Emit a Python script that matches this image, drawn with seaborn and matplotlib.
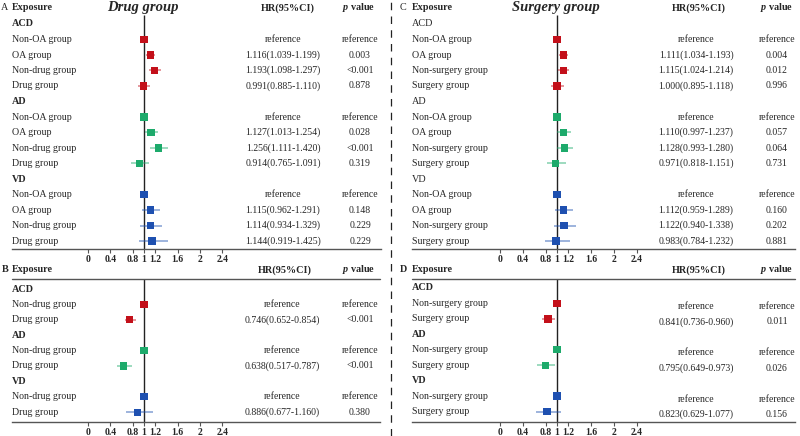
import numpy as np
import pandas as pd
import matplotlib
matplotlib.use("Agg")
import matplotlib.pyplot as plt
import seaborn as sns
from matplotlib.lines import Line2D
from matplotlib.transforms import blended_transform_factory

sns.set_theme(style="white")
plt.rcParams['font.family'] = ['Liberation Serif', 'DejaVu Serif']
plt.rcParams['mathtext.fontset'] = 'custom'
plt.rcParams['mathtext.it'] = 'Liberation Serif:italic:bold'
plt.rcParams['mathtext.rm'] = 'Liberation Serif:bold'

W, H = 800, 436
nan = np.nan

outcomes = ["ACD", "AD", "VD"]
palette = {"ACD": "#C3101A", "AD": "#1DAA6B", "VD": "#1E50B0"}

# Panel A: Drug group
a_groups = ["Non-OA group", "OA group", "Non-drug group", "Drug group"]
a_hr = [1.0, 1.116, 1.193, 0.991, 1.0, 1.127, 1.256, 0.914, 1.0, 1.115, 1.114, 1.144]
a_lo = [nan, 1.039, 1.098, 0.885, nan, 1.013, 1.111, 0.765, nan, 0.962, 0.934, 0.919]
a_hi = [nan, 1.199, 1.297, 1.110, nan, 1.254, 1.420, 1.091, nan, 1.291, 1.329, 1.425]
a_p = ["reference", "0.003", "<0.001", "0.878", "reference", "0.028", "<0.001", "0.319",
       "reference", "0.148", "0.229", "0.229"]

# Panel B
b_groups = ["Non-drug group", "Drug group"]
b_hr = [1.0, 0.746, 1.0, 0.638, 1.0, 0.886]
b_lo = [nan, 0.652, nan, 0.517, nan, 0.677]
b_hi = [nan, 0.854, nan, 0.787, nan, 1.160]
b_p = ["reference", "<0.001", "reference", "<0.001", "reference", "0.380"]

# Panel C: Surgery group
c_groups = ["Non-OA group", "OA group", "Non-surgery group", "Surgery group"]
c_hr = [1.0, 1.111, 1.115, 1.000, 1.0, 1.110, 1.128, 0.971, 1.0, 1.112, 1.122, 0.983]
c_lo = [nan, 1.034, 1.024, 0.895, nan, 0.997, 0.993, 0.818, nan, 0.959, 0.940, 0.784]
c_hi = [nan, 1.193, 1.214, 1.118, nan, 1.237, 1.280, 1.151, nan, 1.289, 1.338, 1.232]
c_p = ["reference", "0.004", "0.012", "0.996", "reference", "0.057", "0.064", "0.731",
       "reference", "0.160", "0.202", "0.881"]

# Panel D
d_groups = ["Non-surgery group", "Surgery group"]
d_hr = [1.0, 0.841, 1.0, 0.795, 1.0, 0.823]
d_lo = [nan, 0.736, nan, 0.649, nan, 0.629]
d_hi = [nan, 0.960, nan, 0.973, nan, 1.077]
d_p = ["reference", "0.011", "reference", "0.026", "reference", "0.156"]

ticks = [0, 0.4, 0.8, 1, 1.2, 1.6, 2, 2.4]
tick_labels = ["0", "0.4", "0.8", "1", "1.2", "1.6", "2", "2.4"]

fig = plt.figure(figsize=(W / 100, H / 100), dpi=100)


def build_frame(groups, hr, lo, hi, p):
    rows = []
    r = 0
    i = 0
    for o in outcomes:
        rows.append(dict(row=r, kind="head", outcome=o, label=o, hr=nan, lo=nan, hi=nan, p=""))
        r += 1
        for g in groups:
            rows.append(dict(row=r, kind="item", outcome=o, label=g, hr=hr[i], lo=lo[i], hi=hi[i], p=p[i]))
            r += 1
            i += 1
    return pd.DataFrame(rows)


def draw_panel(spec, groups, hr, lo, hi, p, letter, letter_bold, title,
               outcome_bold, header_line, text_dy):
    L, R = spec["L"], spec["R"]
    top, axis_y = spec["top"], spec["axis"]
    hr0, ppu = spec["hr0"], spec["ppu"]
    row0, step = spec["row0"], spec["step"]

    def ry(ypx):
        return (ypx - row0) / step

    def dx(xpx):
        return (xpx - hr0) / ppu

    ax = fig.add_axes([L / W, 1 - axis_y / H, (R - L) / W, (axis_y - top) / H])
    ax.patch.set_alpha(0)
    df = build_frame(groups, hr, lo, hi, p)
    items = df[df.kind == "item"]

    # CI lines
    for o in outcomes:
        sub = items[(items.outcome == o) & items.lo.notna()]
        ax.hlines(sub.row, sub.lo, sub.hi, color=palette[o], alpha=0.55, lw=1.1, zorder=3)
    sns.scatterplot(data=items, x="hr", y="row", hue="outcome", palette=palette,
                    marker="s", s=28, edgecolor="none", linewidth=0, legend=False,
                    ax=ax, zorder=4)

    ax.vlines(1, ry(spec["vtop"]), ry(axis_y), color="#222222", lw=1.0, zorder=2)

    ax.set_xlim(dx(L), dx(R))
    ax.set_ylim(ry(axis_y), ry(top))
    ax.set_xlabel("")
    ax.set_ylabel("")
    ax.set_yticks([])
    for s in ["top", "left", "right"]:
        ax.spines[s].set_visible(False)
    ax.spines["bottom"].set_bounds(dx(spec["sl"]), dx(spec["sr"]))
    ax.spines["bottom"].set_color("#555555")
    ax.spines["bottom"].set_linewidth(1.0)
    ax.set_xticks(ticks)
    ax.set_xticklabels(tick_labels)
    ax.tick_params(axis="x", direction="out", length=3, width=0.8, color="#555555",
                   pad=1.2, labelsize=7, bottom=True)
    for t in ax.get_xticklabels():
        t.set_fontweight("bold")

    trans = blended_transform_factory(fig.transFigure, ax.transData)
    # header
    hy = ry(spec["hy"])
    ax.text(spec["lx"] / W, hy, "Exposure", transform=trans, ha="left", va="center",
            fontsize=7.3, fontweight="bold", clip_on=False)
    ax.text(spec["hrh"] / W, hy, "HR(95%CI)", transform=trans, ha="center", va="center",
            fontsize=7.3, fontweight="bold", clip_on=False)
    ax.text(spec["ph"] / W, hy, r"$p$ value", transform=trans, ha="center",
            va="center", fontsize=7.3, fontweight="bold", clip_on=False)
    ax.text(spec["letx"] / W, hy, letter, transform=trans, ha="center", va="center",
            fontsize=7.3, fontweight="bold" if letter_bold else "normal", clip_on=False)
    if title:
        ax.text(spec["tx"] / W, hy, title, transform=trans, ha="center", va="center",
                fontsize=10.5, fontweight="bold", fontstyle="italic", clip_on=False)
    if header_line:
        fig.add_artist(Line2D([spec["sl"] / W, spec["sr"] / W], [1 - spec["hl"] / H] * 2,
                              transform=fig.transFigure, color="#555555", lw=1.0))

    for _, r in df.iterrows():
        if r.kind == "head":
            ax.text(spec["lx"] / W, r.row, r.label, transform=trans, ha="left", va="center",
                    fontsize=7.3, fontweight="bold" if outcome_bold else "normal", clip_on=False)
        else:
            ax.text(spec["lx"] / W, r.row, r.label, transform=trans, ha="left", va="center",
                    fontsize=7.1, clip_on=False)
            if r.p == "reference":
                hrtxt = "reference"
            else:
                hrtxt = f"{r.hr:.3f}({r.lo:.3f}-{r.hi:.3f})"
            ax.text(spec["hrx"] / W, r.row + text_dy, hrtxt, transform=trans, ha="center",
                    va="center", fontsize=7.0, clip_on=False)
            ax.text(spec["px"] / W, r.row + text_dy, r.p, transform=trans, ha="center",
                    va="center", fontsize=7.0, clip_on=False)
    return ax


specA = dict(L=0, R=390, top=0, axis=249, hr0=88, ppu=56, row0=24, step=15.5,
             sl=12, sr=381, vtop=15, hy=8, lx=12, hrh=288, ph=359, hrx=283, px=360,
             letx=5, tx=143, hl=14)
specB = dict(L=0, R=390, top=262, axis=422, hr0=88, ppu=56, row0=289, step=15.4,
             sl=12, sr=380, vtop=279, hy=270, lx=12, hrh=285, ph=359, hrx=282, px=360,
             letx=5, tx=0, hl=279)
specC = dict(L=400, R=800, top=0, axis=249, hr0=500, ppu=57, row0=24, step=15.5,
             sl=412, sr=795, vtop=15, hy=8, lx=412, hrh=699, ph=777, hrx=696, px=777,
             letx=403, tx=556, hl=14)
specD = dict(L=400, R=800, top=262, axis=422, hr0=500, ppu=57, row0=288, step=15.45,
             sl=412, sr=795, vtop=279, hy=270, lx=412, hrh=699, ph=777, hrx=696, px=777,
             letx=403, tx=0, hl=279)

draw_panel(specA, a_groups, a_hr, a_lo, a_hi, a_p, "A", False, "Drug group", True, False, 0)
draw_panel(specB, b_groups, b_hr, b_lo, b_hi, b_p, "B", True, None, True, True, 0)
draw_panel(specC, c_groups, c_hr, c_lo, c_hi, c_p, "C", False, "Surgery group", False, False, 0)
draw_panel(specD, d_groups, d_hr, d_lo, d_hi, d_p, "D", True, None, True, True, 0.2)

fig.add_artist(Line2D([391 / W] * 2, [0, 1], transform=fig.transFigure, color="#222222",
                      lw=0.9, linestyle=(0, (6, 5))))

fig.savefig("out.png", dpi=100)
